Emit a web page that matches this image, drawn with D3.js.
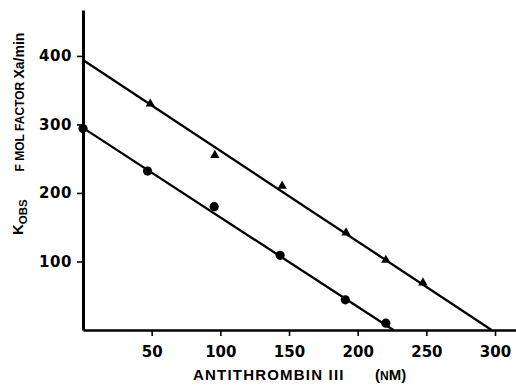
<!DOCTYPE html>
<html>
<head>
<meta charset="utf-8">
<script src="https://cdn.jsdelivr.net/npm/d3@7"></script>
<style>
  body { margin: 0; background: #fff; }
  svg { display: block; }
  .tick text { font-family: "DejaVu Sans", sans-serif; font-weight: bold; font-size: 15px; fill: #000; }
</style>
</head>
<body>
<div id="chart"></div>
<script>
// antithrombin III concentration (nM)
var triX = [49, 96, 145, 191.5, 220.5, 247.5];
var triY = [330, 255, 210, 142, 102, 69];
var circX = [0, 47, 95.5, 143.5, 191, 220.5];
var circY = [294, 232, 180, 109, 44, 10];
// fitted lines (end points)
var triFit = [[0, 394], [297.5, 0]];
var circFit = [[0, 295], [226, 0]];
var xTicks = [50, 100, 150, 200, 250, 300];
var yTicks = [100, 200, 300, 400];

var width = 516, height = 385;

var svg = d3.select("#chart").append("svg")
    .attr("width", width)
    .attr("height", height);

var x = d3.scaleLinear().domain([0, 316]).range([83, 517]);
var y = d3.scaleLinear().domain([0, 467]).range([330, 10]);

// x axis
var xAxis = svg.append("g")
    .attr("transform", "translate(0," + y(0) + ")")
    .call(d3.axisBottom(x).tickValues(xTicks).tickSize(6).tickSizeOuter(0).tickPadding(10));
xAxis.select(".domain").attr("stroke-width", 2.6);
xAxis.selectAll(".tick line").attr("stroke-width", 1.6);

// y axis
var yAxis = svg.append("g")
    .attr("transform", "translate(" + x(0) + ",0)")
    .call(d3.axisLeft(y).tickValues(yTicks).tickSize(6).tickSizeOuter(0).tickPadding(5));
yAxis.select(".domain").attr("stroke-width", 3);
yAxis.selectAll(".tick line").attr("stroke-width", 1.6);
yAxis.selectAll(".tick text").attr("letter-spacing", "0.6px");

var line = d3.line().x(function(d){ return x(d[0]); }).y(function(d){ return y(d[1]); });

svg.append("path").datum(triFit)
    .attr("d", line).attr("fill", "none").attr("stroke", "#000").attr("stroke-width", 2.3);
svg.append("path").datum(circFit)
    .attr("d", line).attr("fill", "none").attr("stroke", "#000").attr("stroke-width", 2.3);

// circles
svg.selectAll(".circ")
    .data(circX)
    .enter().append("circle")
      .attr("class", "circ")
      .attr("cx", function(d){ return x(d); })
      .attr("cy", function(d, i){ return y(circY[i]); })
      .attr("r", 4.6)
      .attr("fill", "#000");

// triangles
var tri = d3.symbol().type(d3.symbolTriangle).size(38);
svg.selectAll(".tri")
    .data(triX)
    .enter().append("path")
      .attr("class", "tri")
      .attr("d", tri)
      .attr("transform", function(d, i){ return "translate(" + x(d) + "," + y(triY[i]) + ")"; })
      .attr("fill", "#000");

// y axis label
var yl = svg.append("text")
    .attr("transform", "translate(24,102) rotate(-90)")
    .attr("text-anchor", "middle")
    .attr("font-family", "Liberation Sans, Arial, sans-serif")
    .attr("font-weight", "bold")
    .attr("fill", "#000");
yl.append("tspan").attr("font-size", "12px").text("F MOL  FACTOR ");
yl.append("tspan").attr("font-size", "14px").text("Xa/min");

var kl = svg.append("text")
    .attr("transform", "translate(23,235) rotate(-90)")
    .attr("font-family", "Liberation Sans, Arial, sans-serif")
    .attr("font-weight", "bold")
    .attr("fill", "#000");
kl.append("tspan").attr("font-size", "15px").text("K");
kl.append("tspan").attr("font-size", "11.5px").attr("dy", 4).text("OBS");

// x axis label
var xl = svg.append("text")
    .attr("x", 193).attr("y", 380)
    .attr("font-family", "Liberation Sans, Arial, sans-serif")
    .attr("font-weight", "bold")
    .attr("font-size", "15px")
    .attr("fill", "#000");
xl.append("tspan").attr("letter-spacing", "1.2px").text("ANTITHROMBIN III");
xl.append("tspan").attr("x", 375).text("(");
xl.append("tspan").attr("font-size", "12px").text("N");
xl.append("tspan").text("M)");
</script>
</body>
</html>
